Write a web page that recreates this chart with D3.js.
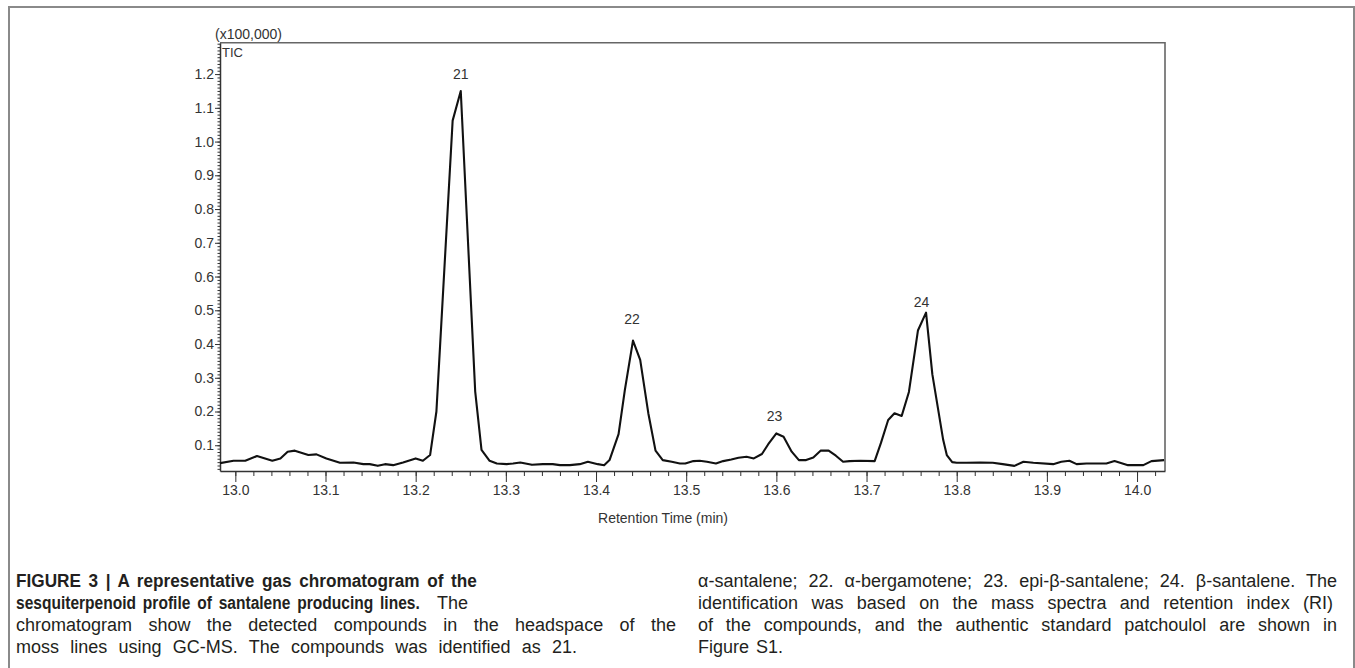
<!DOCTYPE html>
<html>
<head>
<meta charset="utf-8">
<script src="https://cdn.jsdelivr.net/npm/d3@7"></script>
<style>
  body { margin: 0; background: #fff; }
  svg text { font-family: "Liberation Sans", Arial, Helvetica, sans-serif; }
</style>
</head>
<body>
<svg id="fig" width="1355" height="668"></svg>
<script>
// retention time (min) and total ion current (x100,000)
const times = [
  12.983, 12.998, 13.011, 13.024, 13.041, 13.050, 13.058, 13.066, 13.081, 13.090,
  13.101, 13.116, 13.131, 13.142, 13.149, 13.158, 13.166, 13.175, 13.186, 13.200,
  13.208, 13.216, 13.223, 13.241, 13.250, 13.266, 13.273, 13.282, 13.290, 13.301,
  13.308, 13.316, 13.329, 13.341, 13.352, 13.360, 13.371, 13.382, 13.391, 13.402,
  13.409, 13.415, 13.425, 13.432, 13.441, 13.449, 13.458, 13.466, 13.474, 13.484,
  13.493, 13.499, 13.508, 13.515, 13.523, 13.533, 13.541, 13.550, 13.558, 13.567,
  13.575, 13.584, 13.591, 13.600, 13.608, 13.617, 13.625, 13.633, 13.641, 13.649,
  13.658, 13.666, 13.674, 13.681, 13.693, 13.709, 13.716, 13.724, 13.731, 13.739,
  13.747, 13.757, 13.766, 13.773, 13.785, 13.789, 13.795, 13.800, 13.811, 13.826,
  13.840, 13.851, 13.864, 13.874, 13.885, 13.907, 13.916, 13.925, 13.933, 13.944,
  13.966, 13.975, 13.990, 14.007, 14.016, 14.030
];
const tic = [
  0.047, 0.054, 0.054, 0.068, 0.054, 0.061, 0.081, 0.084, 0.071, 0.073,
  0.061, 0.048, 0.049, 0.044, 0.044, 0.039, 0.044, 0.041, 0.049, 0.061,
  0.054, 0.071, 0.200, 1.062, 1.150, 0.260, 0.086, 0.054, 0.046, 0.044,
  0.046, 0.049, 0.042, 0.044, 0.044, 0.041, 0.041, 0.044, 0.051, 0.044,
  0.041, 0.056, 0.133, 0.264, 0.410, 0.353, 0.195, 0.084, 0.056, 0.051,
  0.046, 0.046, 0.053, 0.054, 0.051, 0.046, 0.053, 0.058, 0.063, 0.066,
  0.061, 0.074, 0.103, 0.135, 0.125, 0.081, 0.056, 0.056, 0.064, 0.084,
  0.084, 0.069, 0.051, 0.053, 0.054, 0.053, 0.107, 0.175, 0.195, 0.187,
  0.258, 0.440, 0.493, 0.310, 0.116, 0.071, 0.050, 0.048, 0.048, 0.049,
  0.048, 0.044, 0.039, 0.051, 0.048, 0.044, 0.051, 0.054, 0.044, 0.046,
  0.046, 0.053, 0.041, 0.041, 0.053, 0.056
];

const xTickValues = [13.0, 13.1, 13.2, 13.3, 13.4, 13.5, 13.6, 13.7, 13.8, 13.9, 14.0];
const yTickValues = [0.1, 0.2, 0.3, 0.4, 0.5, 0.6, 0.7, 0.8, 0.9, 1.0, 1.1, 1.2];

const peakNames = ['21', '22', '23', '24'];
const peakTimes = [13.250, 13.440, 13.598, 13.761];
const peakLabelLevels = [1.199, 0.473, 0.185, 0.525];

const captionLeft = [
  'FIGURE 3 | A representative gas chromatogram of the',
  'sesquiterpenoid profile of santalene producing lines.',
  'chromatogram show the detected compounds in the headspace of the',
  'moss lines using GC-MS. The compounds was identified as 21.'
];
const captionRight = [
  'α-santalene; 22. α-bergamotene; 23. epi-β-santalene; 24. β-santalene. The',
  'identification was based on the mass spectra and retention index (RI)',
  'of the compounds, and the authentic standard patchoulol are shown in',
  'Figure S1.'
];

const svg = d3.select('#fig');
const L = 220, R = 1165, T = 42.7, B = 471;

const x = d3.scaleLinear().domain([12.983, 14.031]).range([L, R]);
const y = d3.scaleLinear().domain([0.0237, 1.293]).range([B, T]);

// outer figure frame
svg.append('rect')
  .attr('x', 9).attr('y', 7).attr('width', 1345).attr('height', 700)
  .attr('fill', 'none').attr('stroke', '#8a8a8a').attr('stroke-width', 2);

// plot box (top & right)
svg.append('path')
  .attr('d', `M${L},${T}H${R}V${B}`)
  .attr('fill', 'none').attr('stroke', '#666').attr('stroke-width', 1.6);

function styleAxis(g) {
  g.attr('font-size', null).attr('font-family', null);
  g.selectAll('path.domain').attr('stroke', '#333').attr('stroke-width', 1.5);
  g.selectAll('.tick line').attr('stroke', '#333');
  g.selectAll('.tick text').attr('fill', '#333').style('font-size', '14px');
}

// x axis: minor every 0.02, major every 0.1
const minorX = d3.range(13.0, 14.031, 0.02);
svg.append('g')
  .attr('transform', `translate(0,${B})`)
  .call(d3.axisBottom(x).tickValues(minorX).tickSize(5).tickFormat(''))
  .call(g => g.select('.domain').remove())
  .call(styleAxis);
svg.append('g')
  .attr('transform', `translate(0,${B})`)
  .call(d3.axisBottom(x).tickValues(xTickValues).tickSize(11).tickPadding(3)
    .tickFormat(d3.format('.1f')).tickSizeOuter(0))
  .call(styleAxis);

// y axis: minor every 0.01, major every 0.1
const minorY = d3.range(0.03, 1.2905, 0.01);
svg.append('g')
  .attr('transform', `translate(${L},0)`)
  .call(d3.axisLeft(y).tickValues(minorY).tickSize(2.5).tickFormat(''))
  .call(g => g.select('.domain').remove())
  .call(styleAxis);
svg.append('g')
  .attr('transform', `translate(${L},0)`)
  .call(d3.axisLeft(y).tickValues(yTickValues).tickSize(5).tickPadding(1)
    .tickFormat(d3.format('.1f')).tickSizeOuter(0))
  .call(styleAxis);

// trace
svg.append('clipPath').attr('id', 'plotclip')
  .append('rect').attr('x', L).attr('y', T).attr('width', R - L).attr('height', B - T);

const line = d3.line()
  .x(d => x(d[0]))
  .y(d => y(d[1]));

svg.append('path')
  .datum(d3.zip(times, tic))
  .attr('clip-path', 'url(#plotclip)')
  .attr('d', line)
  .attr('fill', 'none')
  .attr('stroke', '#111')
  .attr('stroke-width', 2.1)
  .attr('stroke-linejoin', 'round');

// peak numbers
svg.selectAll('.peak')
  .data(peakNames)
  .enter()
  .append('text')
  .attr('class', 'peak')
  .attr('x', (d, i) => x(peakTimes[i]))
  .attr('y', (d, i) => y(peakLabelLevels[i]))
  .attr('dy', '0.35em')
  .attr('text-anchor', 'middle')
  .attr('fill', '#333')
  .style('font-size', '14px')
  .text(d => d);

// axis captions
svg.append('text').attr('x', 215).attr('y', 38.5)
  .attr('fill', '#333').style('font-size', '14px').text('(x100,000)');
svg.append('text').attr('x', 222).attr('y', 56.5)
  .attr('fill', '#333').style('font-size', '13px').text('TIC');
svg.append('text').attr('x', 663).attr('y', 523).attr('text-anchor', 'middle')
  .attr('fill', '#333').style('font-size', '14px').text('Retention Time (min)');

// figure caption, justified by widening the word gaps
const baselines = [587, 609, 631, 653];
const leftWidths = [461, 404, 660, 561];
const rightWidths = [639, 635, 639, 85];

function justify(sel, width) {
  const natural = sel.node().getComputedTextLength();
  const gaps = (sel.text().match(/ /g) || []).length;
  if (gaps > 0 && natural < width) sel.attr('word-spacing', (width - natural) / gaps);
}

// bold heading: condensed glyphs, scaled horizontally to the measured width
function squeeze(sel, x0, y0, width) {
  sel.attr('x', 0).attr('y', 0).attr('word-spacing', 3);
  const natural = sel.node().getComputedTextLength();
  sel.attr('transform', `translate(${x0},${y0}) scale(${width / natural},1)`);
}

const cap = svg.append('g').style('font-size', '18px').attr('fill', '#231f20');
captionLeft.forEach((s, i) => {
  const t = cap.append('text').text(s);
  if (i < 2) {
    t.style('font-weight', 'bold').style('font-size', '18.5px');
    squeeze(t, 16, baselines[i], leftWidths[i]);
  } else {
    t.attr('x', 16).attr('y', baselines[i]);
    justify(t, leftWidths[i]);
  }
});
cap.append('text')
  .attr('x', 468).attr('y', baselines[1]).attr('text-anchor', 'end')
  .text('The');
captionRight.forEach((s, i) => {
  const t = cap.append('text')
    .attr('x', 698).attr('y', baselines[i])
    .text(s);
  justify(t, rightWidths[i]);
});
</script>
</body>
</html>
